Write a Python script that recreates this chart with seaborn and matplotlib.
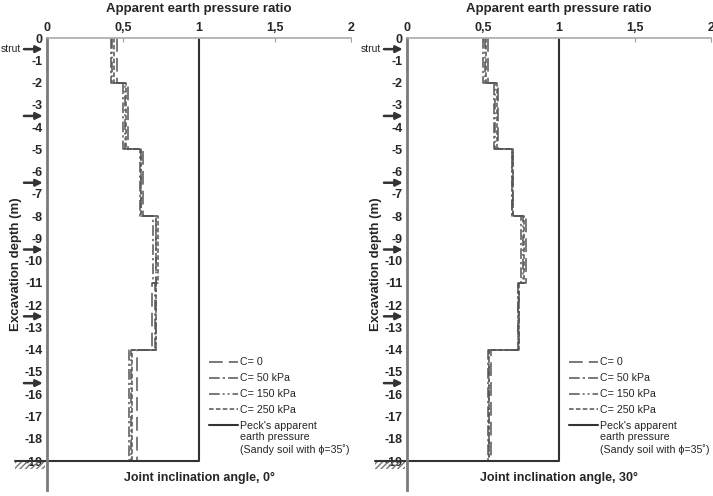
import numpy as np
import pandas as pd
import matplotlib
matplotlib.use('Agg')
import matplotlib.pyplot as plt
import matplotlib.transforms as mtransforms
from matplotlib.patches import Rectangle
import seaborn as sns

# segment boundaries of the excavation (m)
seg_top = [0, -2, -5, -8, -11, -14]
seg_bot = [-2, -5, -8, -11, -14, -19]

# apparent earth pressure ratio per segment, joint inclination 0 deg
j0_c0 = [0.46, 0.53, 0.63, 0.72, 0.69, 0.59]
j0_c50 = [0.42, 0.50, 0.61, 0.70, 0.71, 0.54]
j0_c150 = [0.43, 0.51, 0.62, 0.72, 0.72, 0.55]
j0_c250 = [0.44, 0.52, 0.62, 0.73, 0.72, 0.56]

# joint inclination 30 deg
j30_c0 = [0.53, 0.60, 0.70, 0.78, 0.74, 0.55]
j30_c50 = [0.50, 0.57, 0.69, 0.75, 0.73, 0.53]
j30_c150 = [0.51, 0.58, 0.69, 0.76, 0.73, 0.54]
j30_c250 = [0.52, 0.59, 0.70, 0.77, 0.74, 0.54]

# Peck's apparent earth pressure (sand, phi=35)
peck_x = [1, 1, 0]
peck_y = [0, -19, -19]

strut_depths = [-0.5, -3.5, -6.5, -9.5, -12.5, -15.5]
x_ticks = [0, 0.5, 1, 1.5, 2]
x_ticklabels = ['0', '0,5', '1', '1,5', '2']
y_ticks = list(range(0, -20, -1))

series_names = ['C= 0', 'C= 50 kPa', 'C= 150 kPa', 'C= 250 kPa']
dashes = [(9, 4), (7, 2, 1.5, 2), (7, 2, 1.2, 2, 1.2, 2), (3, 1.5)]


def step_frame(vals, name):
    xs, ys = [], []
    for v, t, b in zip(vals, seg_top, seg_bot):
        xs += [v, v]
        ys += [t, b]
    return pd.DataFrame({'ratio': xs, 'depth': ys, 'series': name})


sns.set_style('white')
plt.rcParams['font.family'] = ['Liberation Sans', 'DejaVu Sans']

fig = plt.figure(figsize=(7.13, 4.96), dpi=100)
ax_l = fig.add_axes([47 / 713, 1 - 490 / 496, 304 / 713, 452 / 496])
ax_r = fig.add_axes([407 / 713, 1 - 490 / 496, 304 / 713, 452 / 496])

panels = [
    (ax_l, [j0_c0, j0_c50, j0_c150, j0_c250], 'Joint inclination angle, 0°'),
    (ax_r, [j30_c0, j30_c50, j30_c150, j30_c250], 'Joint inclination angle, 30°'),
]

legends = []
for ax, vals, xlab in panels:
    for v, name, d in zip(vals, series_names, dashes):
        df = step_frame(v, name)
        sns.lineplot(data=df, x='ratio', y='depth', sort=False, estimator=None,
                     ax=ax, color='#555555', lw=1.1, dashes=False, label=name)
        ax.lines[-1].set_dashes(d)
    sns.lineplot(x=peck_x, y=peck_y, sort=False, estimator=None, ax=ax,
                 color='#333333', lw=1.5, label="Peck's apparent")

    ax.set_xlim(0, 2)
    ax.set_ylim(-20.3, 0)
    ax.xaxis.tick_top()
    ax.xaxis.set_label_position('top')
    ax.set_xticks(x_ticks)
    ax.set_xticklabels(x_ticklabels, fontweight='bold', fontsize=9)
    ax.set_yticks(y_ticks)
    ax.set_yticklabels([str(t) for t in y_ticks], fontweight='bold', fontsize=9)
    ax.tick_params(axis='x', direction='in', length=3, pad=3, color='#999999')
    ax.tick_params(axis='y', direction='in', length=3, pad=3, color='#999999')
    ax.set_xlabel('Apparent earth pressure ratio', fontweight='bold', fontsize=9.5, labelpad=7)
    ax.set_ylabel('Excavation depth (m)', fontweight='bold', fontsize=9.5, labelpad=2)
    for s in ['right', 'bottom']:
        ax.spines[s].set_visible(False)
    ax.spines['left'].set_color('#7a7a7a')
    ax.spines['left'].set_linewidth(2)
    ax.spines['top'].set_color('#aaaaaa')
    ax.spines['top'].set_linewidth(1.2)

    ax.text(1.0, -19.75, xlab, ha='center', va='center', fontweight='bold', fontsize=9)

    # struts and ground line drawn outside the axes
    trans = mtransforms.blended_transform_factory(ax.transAxes, ax.transData)
    for d in strut_depths:
        ax.annotate('', xy=(-0.005, d), xytext=(-0.085, d), xycoords=trans, textcoords=trans,
                    arrowprops=dict(arrowstyle='-|>', color='#333333', lw=1.8,
                                    mutation_scale=10), annotation_clip=False)
    ax.text(-0.086, strut_depths[0], 'strut', transform=trans, ha='right', va='center',
            fontsize=7.5)
    ax.plot([-0.105, 0], [-19, -19], transform=trans, color='#333333', lw=1.5, clip_on=False)
    ax.add_patch(Rectangle((-0.105, -19.35), 0.1, 0.35, transform=trans, fill=False,
                           hatch='//////', lw=0, edgecolor='#777777', clip_on=False))

    leg = ax.legend(loc='upper left', bbox_to_anchor=(0.515, 0.305), frameon=False,
                    fontsize=7.7, handlelength=2.7, handletextpad=0.2, labelspacing=0.55,
                    borderpad=0)
    legends.append(leg)

# continuation of the Peck legend entry under its first line
fig.canvas.draw()
for leg in legends:
    bb = leg.get_texts()[-1].get_window_extent()
    fig.text(bb.x0, bb.y0 - 0.5, 'earth pressure\n(Sandy soil with \u03d5=35\u02da)',
             transform=None, ha='left', va='top', fontsize=7.7, linespacing=1.25)

fig.savefig('out.png', dpi=100)
